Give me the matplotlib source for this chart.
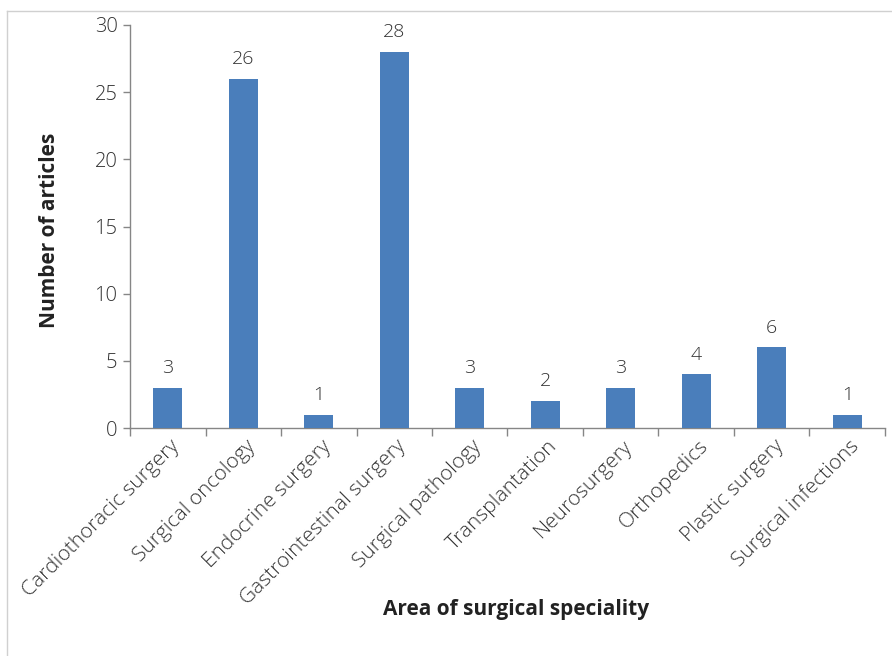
import matplotlib
matplotlib.use("Agg")
import matplotlib.pyplot as plt
from matplotlib.lines import Line2D
from matplotlib.transforms import ScaledTranslation
import numpy as np

categories = ["Cardiothoracic surgery", "Surgical oncology", "Endocrine surgery",
              "Gastrointestinal surgery", "Surgical pathology", "Transplantation",
              "Neurosurgery", "Orthopedics", "Plastic surgery", "Surgical infections"]
articles = [3, 26, 1, 28, 3, 2, 3, 4, 6, 1]
y_ticks = [0, 5, 10, 15, 20, 25, 30]

plt.rcParams['font.family'] = ['Open Sans', 'DejaVu Sans']

W, H = 892, 656
fig = plt.figure(figsize=(W / 100, H / 100), dpi=100)
# thin frame along the top and left edges
fig.lines.append(Line2D([7 / W, 1], [1 - 11 / H, 1 - 11 / H], transform=fig.transFigure,
                        color="#d0d0d0", linewidth=1.0))
fig.lines.append(Line2D([7 / W, 7 / W], [0, 1 - 11 / H], transform=fig.transFigure,
                        color="#d0d0d0", linewidth=1.0))

ax = fig.add_axes([130 / W, (H - 428) / H, (885 - 130) / W, (428 - 25) / H])
x = np.arange(len(categories))
ax.bar(x, articles, width=0.38, color="#4a7ebb", zorder=3)
for xi, v in zip(x, articles):
    ax.text(xi, v + 0.8, str(v), ha="center", va="bottom", fontsize=14,
            fontweight="light", color="#333333")

ax.set_xlim(-0.5, len(categories) - 0.5)
ax.set_ylim(0, 30)
ax.set_yticks(y_ticks)
ax.set_yticklabels([str(t) for t in y_ticks], fontsize=14.5, fontweight="light")
ax.tick_params(axis="y", colors="#868686", labelcolor="#333333", length=5, width=1, pad=4)
ax.set_xticks(np.arange(len(categories) + 1) - 0.5, minor=False)
ax.set_xticklabels([])
ax.set_xticks(x, minor=True)
ax.set_xticklabels(categories, minor=True, rotation=45, ha="right", va="center",
                   rotation_mode="anchor", fontsize=15, fontweight="light", color="#333333")
ax.tick_params(axis="x", which="major", length=6, width=1, colors="#868686")
ax.tick_params(axis="x", which="minor", length=0, pad=16)
shift = ScaledTranslation(9 / 100, 7 / 100, fig.dpi_scale_trans)
for lbl in ax.get_xticklabels(minor=True):
    lbl.set_transform(lbl.get_transform() + shift)

for s in ["top", "right"]:
    ax.spines[s].set_visible(False)
for s in ["left", "bottom"]:
    ax.spines[s].set_color("#868686")
    ax.spines[s].set_linewidth(1)

fig.text(50 / W, 1 - 230 / H, "Number of articles", rotation=90, ha="center", va="center",
         fontsize=15, fontweight="bold", color="#222222")
fig.text(516 / W, 1 - 610 / H, "Area of surgical speciality", ha="center", va="center",
         fontsize=15, fontweight="bold", color="#222222")

fig.savefig("out.png", dpi=100)
